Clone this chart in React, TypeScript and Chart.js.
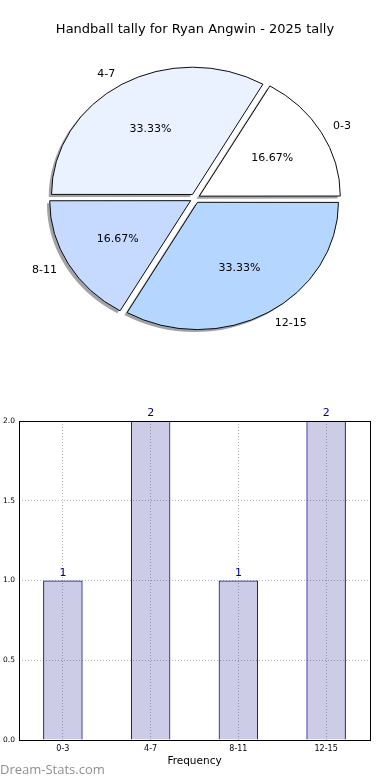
import React, { useEffect, useRef } from 'react';
import { Chart, registerables } from 'chart.js';
Chart.register(...registerables);

const chartTitle = 'Handball tally for Ryan Angwin - 2025 tally';
const categories = ['0-3', '4-7', '8-11', '12-15'];
const counts = [1, 2, 1, 2];
const sliceColors = ['#ffffff', '#ebf2ff', '#c6d9ff', '#b5d7ff'];
const yTicks = [0, 0.5, 1, 1.5, 2];
const xAxisTitle = 'Frequency';
const watermark = 'Dream-Stats.com';

const FONT = "'DejaVu Sans', sans-serif";
const SY = 0.903;

function applyEllipse(ctx: any, cy: number) {
  ctx.translate(0, cy);
  ctx.scale(1, SY);
  ctx.translate(0, -cy);
}

const piePlugin = {
  id: 'pieDecor',
  beforeDatasetsDraw(chart: any) {
    const ctx = chart.ctx;
    const meta = chart.getDatasetMeta(0);
    const cy = meta.data[0].y;
    ctx.save();
    ctx.translate(-2.8, 2.5);
    applyEllipse(ctx, cy);
    meta.data.forEach((el: any) => {
      const fake = Object.create(el);
      fake.options = { ...el.options, backgroundColor: 'rgba(70,72,80,0.5)', borderWidth: 0 };
      el.draw.call(fake, ctx);
    });
    ctx.restore();
    ctx.save();
    applyEllipse(ctx, cy);
  },
  afterDatasetsDraw(chart: any) {
    const ctx = chart.ctx;
    ctx.restore();
    const meta = chart.getDatasetMeta(0);
    const data: number[] = chart.data.datasets[0].data;
    const labels: string[] = chart.data.labels;
    const total = data.reduce((a, b) => a + b, 0);
    ctx.save();
    ctx.font = `11px ${FONT}`;
    ctx.fillStyle = '#000';
    ctx.textBaseline = 'middle';
    meta.data.forEach((el: any, i: number) => {
      const mid = (el.startAngle + el.endAngle) / 2;
      const off = (el.options.offset || 0) / 4;
      const r = el.outerRadius;
      const c = Math.cos(mid);
      const s = Math.sin(mid);
      const lx = el.x + c * (off + 1.1 * r);
      const ly = el.y + s * (off + 1.1 * r) * SY;
      ctx.textAlign = c > 0 ? 'left' : 'right';
      ctx.fillText(labels[i], lx, ly);
      const px = el.x + c * (off + 0.6 * r);
      const py = el.y + s * (off + 0.6 * r) * SY;
      ctx.textAlign = 'center';
      ctx.fillText(((data[i] / total) * 100).toFixed(2) + '%', px, py);
    });
    ctx.restore();
  },
};

const barPlugin = {
  id: 'barDecor',
  afterDatasetsDraw(chart: any) {
    const ctx = chart.ctx;
    const meta = chart.getDatasetMeta(0);
    const data: number[] = chart.data.datasets[0].data;
    ctx.save();
    ctx.font = `11px ${FONT}`;
    ctx.fillStyle = '#000080';
    ctx.textAlign = 'center';
    ctx.textBaseline = 'alphabetic';
    meta.data.forEach((el: any, i: number) => {
      ctx.fillText(String(data[i]), el.x, el.y - 5);
    });
    ctx.restore();
  },
  afterDraw(chart: any) {
    const { ctx, chartArea } = chart;
    ctx.save();
    ctx.strokeStyle = '#000';
    ctx.lineWidth = 1;
    ctx.strokeRect(chartArea.left + 0.5, chartArea.top + 0.5, chartArea.right - chartArea.left, chartArea.bottom - chartArea.top);
    ctx.restore();
  },
};

export default function App() {
  const pieRef = useRef<HTMLCanvasElement>(null);
  const barRef = useRef<HTMLCanvasElement>(null);

  useEffect(() => {
    Chart.defaults.font.family = FONT;
    const revLabels = [...categories].reverse();
    const revCounts = [...counts].reverse();
    const revColors = [...sliceColors].reverse();

    const pie = new Chart(pieRef.current as HTMLCanvasElement, {
      type: 'pie',
      data: {
        labels: revLabels,
        datasets: [
          {
            data: revCounts,
            backgroundColor: revColors,
            borderColor: '#000',
            borderWidth: 1,
            offset: 20,
            clip: false,
          } as any,
        ],
      },
      options: {
        animation: false,
        responsive: false,
        events: [],
        rotation: 90,
        radius: 140.3,
        plugins: {
          legend: { display: false },
          tooltip: { enabled: false },
          title: {
            display: true,
            text: chartTitle,
            color: '#000',
            font: { size: 13, weight: 'normal', family: FONT },
            padding: { top: 22.2, bottom: 12 },
          },
        },
      } as any,
      plugins: [piePlugin],
    });

    const bar = new Chart(barRef.current as HTMLCanvasElement, {
      type: 'bar',
      data: {
        labels: categories,
        datasets: [
          {
            data: counts,
            backgroundColor: 'rgba(0,0,128,0.2)',
            borderColor: '#000090',
            borderWidth: 1,
            categoryPercentage: 1,
            barPercentage: 0.45,
          },
        ],
      },
      options: {
        animation: false,
        responsive: false,
        events: [],
        layout: { padding: { top: 26, right: 20, left: 0, bottom: 0 } },
        plugins: {
          legend: { display: false },
          tooltip: { enabled: false },
        },
        scales: {
          x: {
            grid: { offset: false, color: '#b5b5b5', lineWidth: 1, drawTicks: false },
            border: { display: false, dash: [1, 2] },
            ticks: { color: '#000', font: { size: 8 }, padding: 4 },
            title: {
              display: true,
              text: xAxisTitle,
              color: '#000',
              font: { size: 10.5 },
              padding: { top: 0, bottom: 12 },
            },
            afterFit: (s: any) => {
              s.height = 40;
            },
          },
          y: {
            min: 0,
            max: 2,
            afterBuildTicks: (s: any) => {
              s.ticks = yTicks.map((v) => ({ value: v }));
            },
            grid: { color: '#b5b5b5', lineWidth: 1, drawTicks: false },
            border: { display: false, dash: [1, 2] },
            ticks: {
              color: '#000',
              font: { size: 7.5 },
              padding: 4,
              callback: (v: any) => Number(v).toFixed(1),
            },
            afterFit: (s: any) => {
              s.width = 19;
            },
          },
        },
      } as any,
      plugins: [barPlugin],
    });

    return () => {
      pie.destroy();
      bar.destroy();
    };
  }, []);

  return (
    <div style={{ position: 'fixed', left: 0, top: 0, width: 390, height: 780, background: '#fff', overflow: 'hidden' }}>
      <canvas ref={pieRef} width={390} height={347} style={{ position: 'absolute', left: 0, top: 0 }} />
      <canvas ref={barRef} width={390} height={385} style={{ position: 'absolute', left: 0, top: 395 }} />
      <div
        style={{
          position: 'absolute',
          left: 0,
          top: 763,
          fontFamily: "'Open Sans', sans-serif",
          fontSize: 13,
          lineHeight: '13px',
          color: '#8f8f8f',
          whiteSpace: 'nowrap',
        }}
      >
        {watermark}
      </div>
    </div>
  );
}
